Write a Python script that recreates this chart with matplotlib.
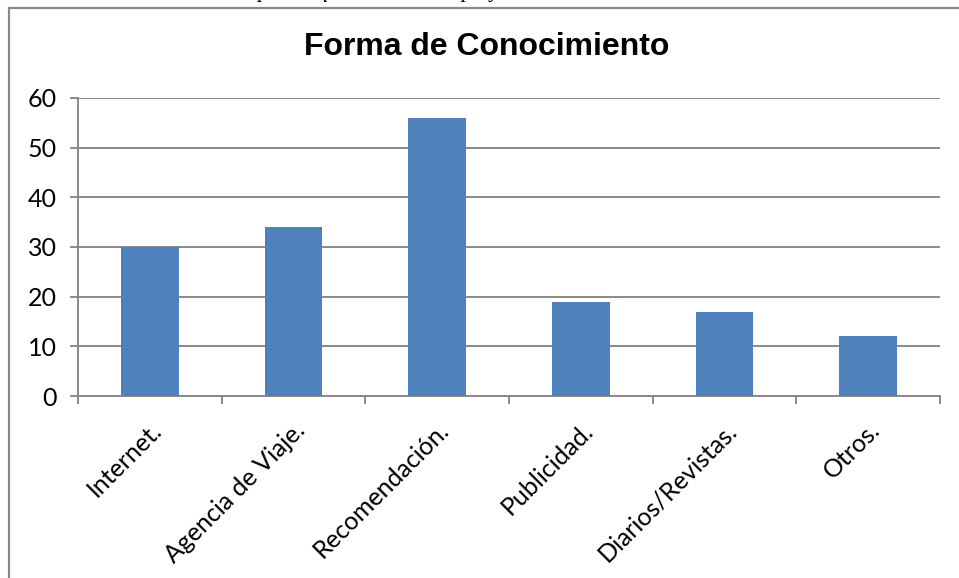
import matplotlib
matplotlib.use("Agg")
import matplotlib.pyplot as plt
from matplotlib.lines import Line2D

# Data
categories = ["Internet.", "Agencia de Viaje.", "Recomendación.", "Publicidad.",
              "Diarios/Revistas.", "Otros."]
values = [30, 34, 56, 19, 17, 12]
yticks = [0, 10, 20, 30, 40, 50, 60]
title = "Forma de Conocimiento"
caption = "Forma de conocimiento por la que visitaron la playa"

W, H = 959, 578
fig = plt.figure(figsize=(W / 100, H / 100), dpi=100)
fig.patch.set_facecolor("white")

gray = "#898989"
bar_color = "#4f81bd"

# caption line running off the top edge (only its lowest strokes show)
fig.text(40 / W, 1 + 2.5 / H, caption, family="Liberation Serif", style="italic",
         fontsize=16, va="baseline", ha="left", color="black")

# outer chart frame
fig.add_artist(Line2D([8.5 / W, 8.5 / W], [0, 1 - 7.5 / H], transform=fig.transFigure,
                      color=gray, lw=1.6))
fig.add_artist(Line2D([8.5 / W, 1], [1 - 7.5 / H, 1 - 7.5 / H], transform=fig.transFigure,
                      color=gray, lw=1.6))

x0, x1 = 78, 940
y0, y1 = 396, 98
ax = fig.add_axes([x0 / W, (H - y0) / H, (x1 - x0) / W, (y0 - y1) / H])

xs = list(range(len(categories)))
ax.bar(xs, values, width=0.4, color=bar_color, zorder=3)

ax.set_xlim(-0.5, len(categories) - 0.5)
ax.set_ylim(0, 60)
ax.set_yticks(yticks)
ax.yaxis.grid(True, color=gray, lw=1.4, zorder=0)
ax.set_axisbelow(True)

for s in ["top", "right"]:
    ax.spines[s].set_visible(False)
for s in ["left", "bottom"]:
    ax.spines[s].set_color(gray)
    ax.spines[s].set_linewidth(1.4)

ax.tick_params(axis="y", length=6, width=1.4, color=gray, pad=9, labelsize=18)
for lab in ax.get_yticklabels():
    lab.set_family("Lato")

ax.set_xticks(xs)
ax.set_xticklabels(categories, rotation=45, ha="right", va="top",
                   rotation_mode="anchor", family="Lato", fontsize=18)
ax.set_xticks([i - 0.5 for i in range(len(categories) + 1)], minor=True)
ax.tick_params(axis="x", which="major", length=0, pad=16)
ax.tick_params(axis="x", which="minor", length=6, width=1.4, color=gray)

fig.text(487 / W, 1 - 47 / H, title, family="Liberation Sans",
         fontweight="bold", fontsize=23, ha="center", va="center")

fig.savefig("out.png", dpi=100, facecolor="white")
